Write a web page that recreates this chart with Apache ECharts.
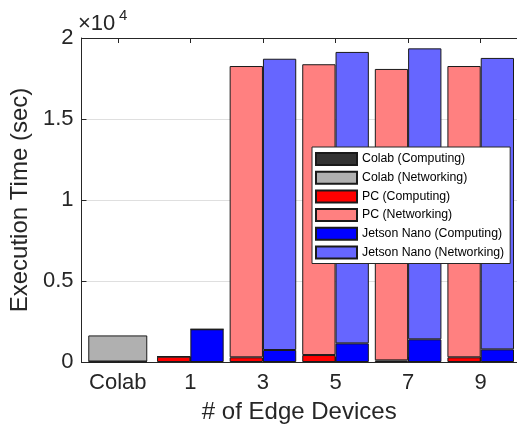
<!DOCTYPE html>
<html>
<head>
<meta charset="utf-8">
<script src="https://cdn.jsdelivr.net/npm/echarts@6/dist/echarts.min.js"></script>
<style>
html,body{margin:0;padding:0;background:#fff;}
#chart{width:517px;height:433px;}
</style>
</head>
<body>
<div id="chart"></div>
<script>
// ---- data (seconds) ----
const categories = ['Colab', '1', '3', '5', '7', '9'];
const colabComputing  = [30,   null, null,  null,  null,  null];
const colabNetworking = [1610, null, null,  null,  null,  null];
const pcComputing     = [null, 330,  290,   430,   100,   290];
const pcNetworking    = [null, 0,    17980, 17950, 17990, 17980];
const jetsonComputing = [null, 2020, 740,   1150,  1400,  780];
const jetsonNetworking= [null, 0,    17980, 17990, 17960, 17990];
const yTicks = [0, 5000, 10000, 15000, 20000];
const seriesNames = ['Colab (Computing)', 'Colab (Networking)', 'PC (Computing)', 'PC (Networking)', 'Jetson Nano (Computing)', 'Jetson Nano (Networking)'];

const FONT = 'Liberation Sans, Arial, Helvetica, sans-serif';
const AX = '#262626';
const chart = echarts.init(document.getElementById('chart'), null, {renderer: 'canvas'});

function bar(name, data, stack, color, xi, width) {
  return {
    name, type: 'bar', data, stack, xAxisIndex: xi, barWidth: width, barGap: '0%',
    itemStyle: {color, borderColor: '#1a1a1a', borderWidth: 1},
    emphasis: {disabled: true}, animation: false
  };
}

chart.setOption({
  animation: false,
  textStyle: {fontFamily: FONT},
  grid: {left: 76, right: -4, top: 38, bottom: 71, containLabel: false},
  graphic: [
    {type: 'text', left: 78, top: 13, style: {text: '×10', font: '22px ' + FONT, fill: AX}},
    {type: 'text', left: 119, top: 8, style: {text: '4', font: '15px ' + FONT, fill: AX}}
  ],
  legend: {
    data: seriesNames,
    orient: 'vertical', left: 312, top: 147,
    itemWidth: 41, itemHeight: 12, itemGap: 4.7,
    padding: [5, 6, 4, 3],
    backgroundColor: '#fff', borderColor: AX, borderWidth: 1,
    textStyle: {fontSize: 12.3, color: '#000', fontFamily: FONT},
    icon: 'rect', selectedMode: false
  },
  xAxis: [
    {type: 'category', data: categories, position: 'bottom',
     axisLine: {show: true, lineStyle: {color: AX, width: 1}},
     axisTick: {show: true, inside: true, alignWithLabel: true, interval: 0, length: 5, lineStyle: {color: AX}},
     axisLabel: {fontSize: 22, color: AX, margin: 10, interval: 0, fontFamily: FONT},
     name: '# of Edge Devices', nameLocation: 'middle', nameGap: 38,
     nameTextStyle: {fontSize: 24, color: AX, fontFamily: FONT}},
    {type: 'category', data: categories, position: 'bottom', show: false},
    {type: 'category', data: categories, position: 'top',
     axisLine: {show: true, lineStyle: {color: AX, width: 1}},
     axisTick: {show: true, inside: true, alignWithLabel: true, interval: 0, length: 5, lineStyle: {color: AX}},
     axisLabel: {show: false}}
  ],
  yAxis: {
    type: 'value', min: yTicks[0], max: yTicks[yTicks.length - 1], interval: 5000,
    axisLine: {show: true, lineStyle: {color: AX, width: 1}},
    axisTick: {show: true, inside: true, length: 5, lineStyle: {color: AX}},
    axisLabel: {fontSize: 22, color: AX, margin: 8, fontFamily: FONT,
      formatter: v => String(v / 10000)},
    splitLine: {show: true, lineStyle: {color: '#dfdfdf', width: 1}},
    name: 'Execution Time (sec)', nameLocation: 'middle', nameGap: 46,
    nameTextStyle: {fontSize: 24, color: AX, fontFamily: FONT}
  },
  series: [
    bar(seriesNames[0], colabComputing, 'colab', '#333333', 0, 59),
    bar(seriesNames[1], colabNetworking, 'colab', '#b0b0b0', 0, 59),
    bar(seriesNames[2], pcComputing, 'pc', '#ff0000', 1, 33.3),
    bar(seriesNames[3], pcNetworking, 'pc', '#ff8080', 1, 33.3),
    bar(seriesNames[4], jetsonComputing, 'jn', '#0000ff', 1, 33.3),
    bar(seriesNames[5], jetsonNetworking, 'jn', '#6666ff', 1, 33.3)
  ]
});
</script>
</body>
</html>
